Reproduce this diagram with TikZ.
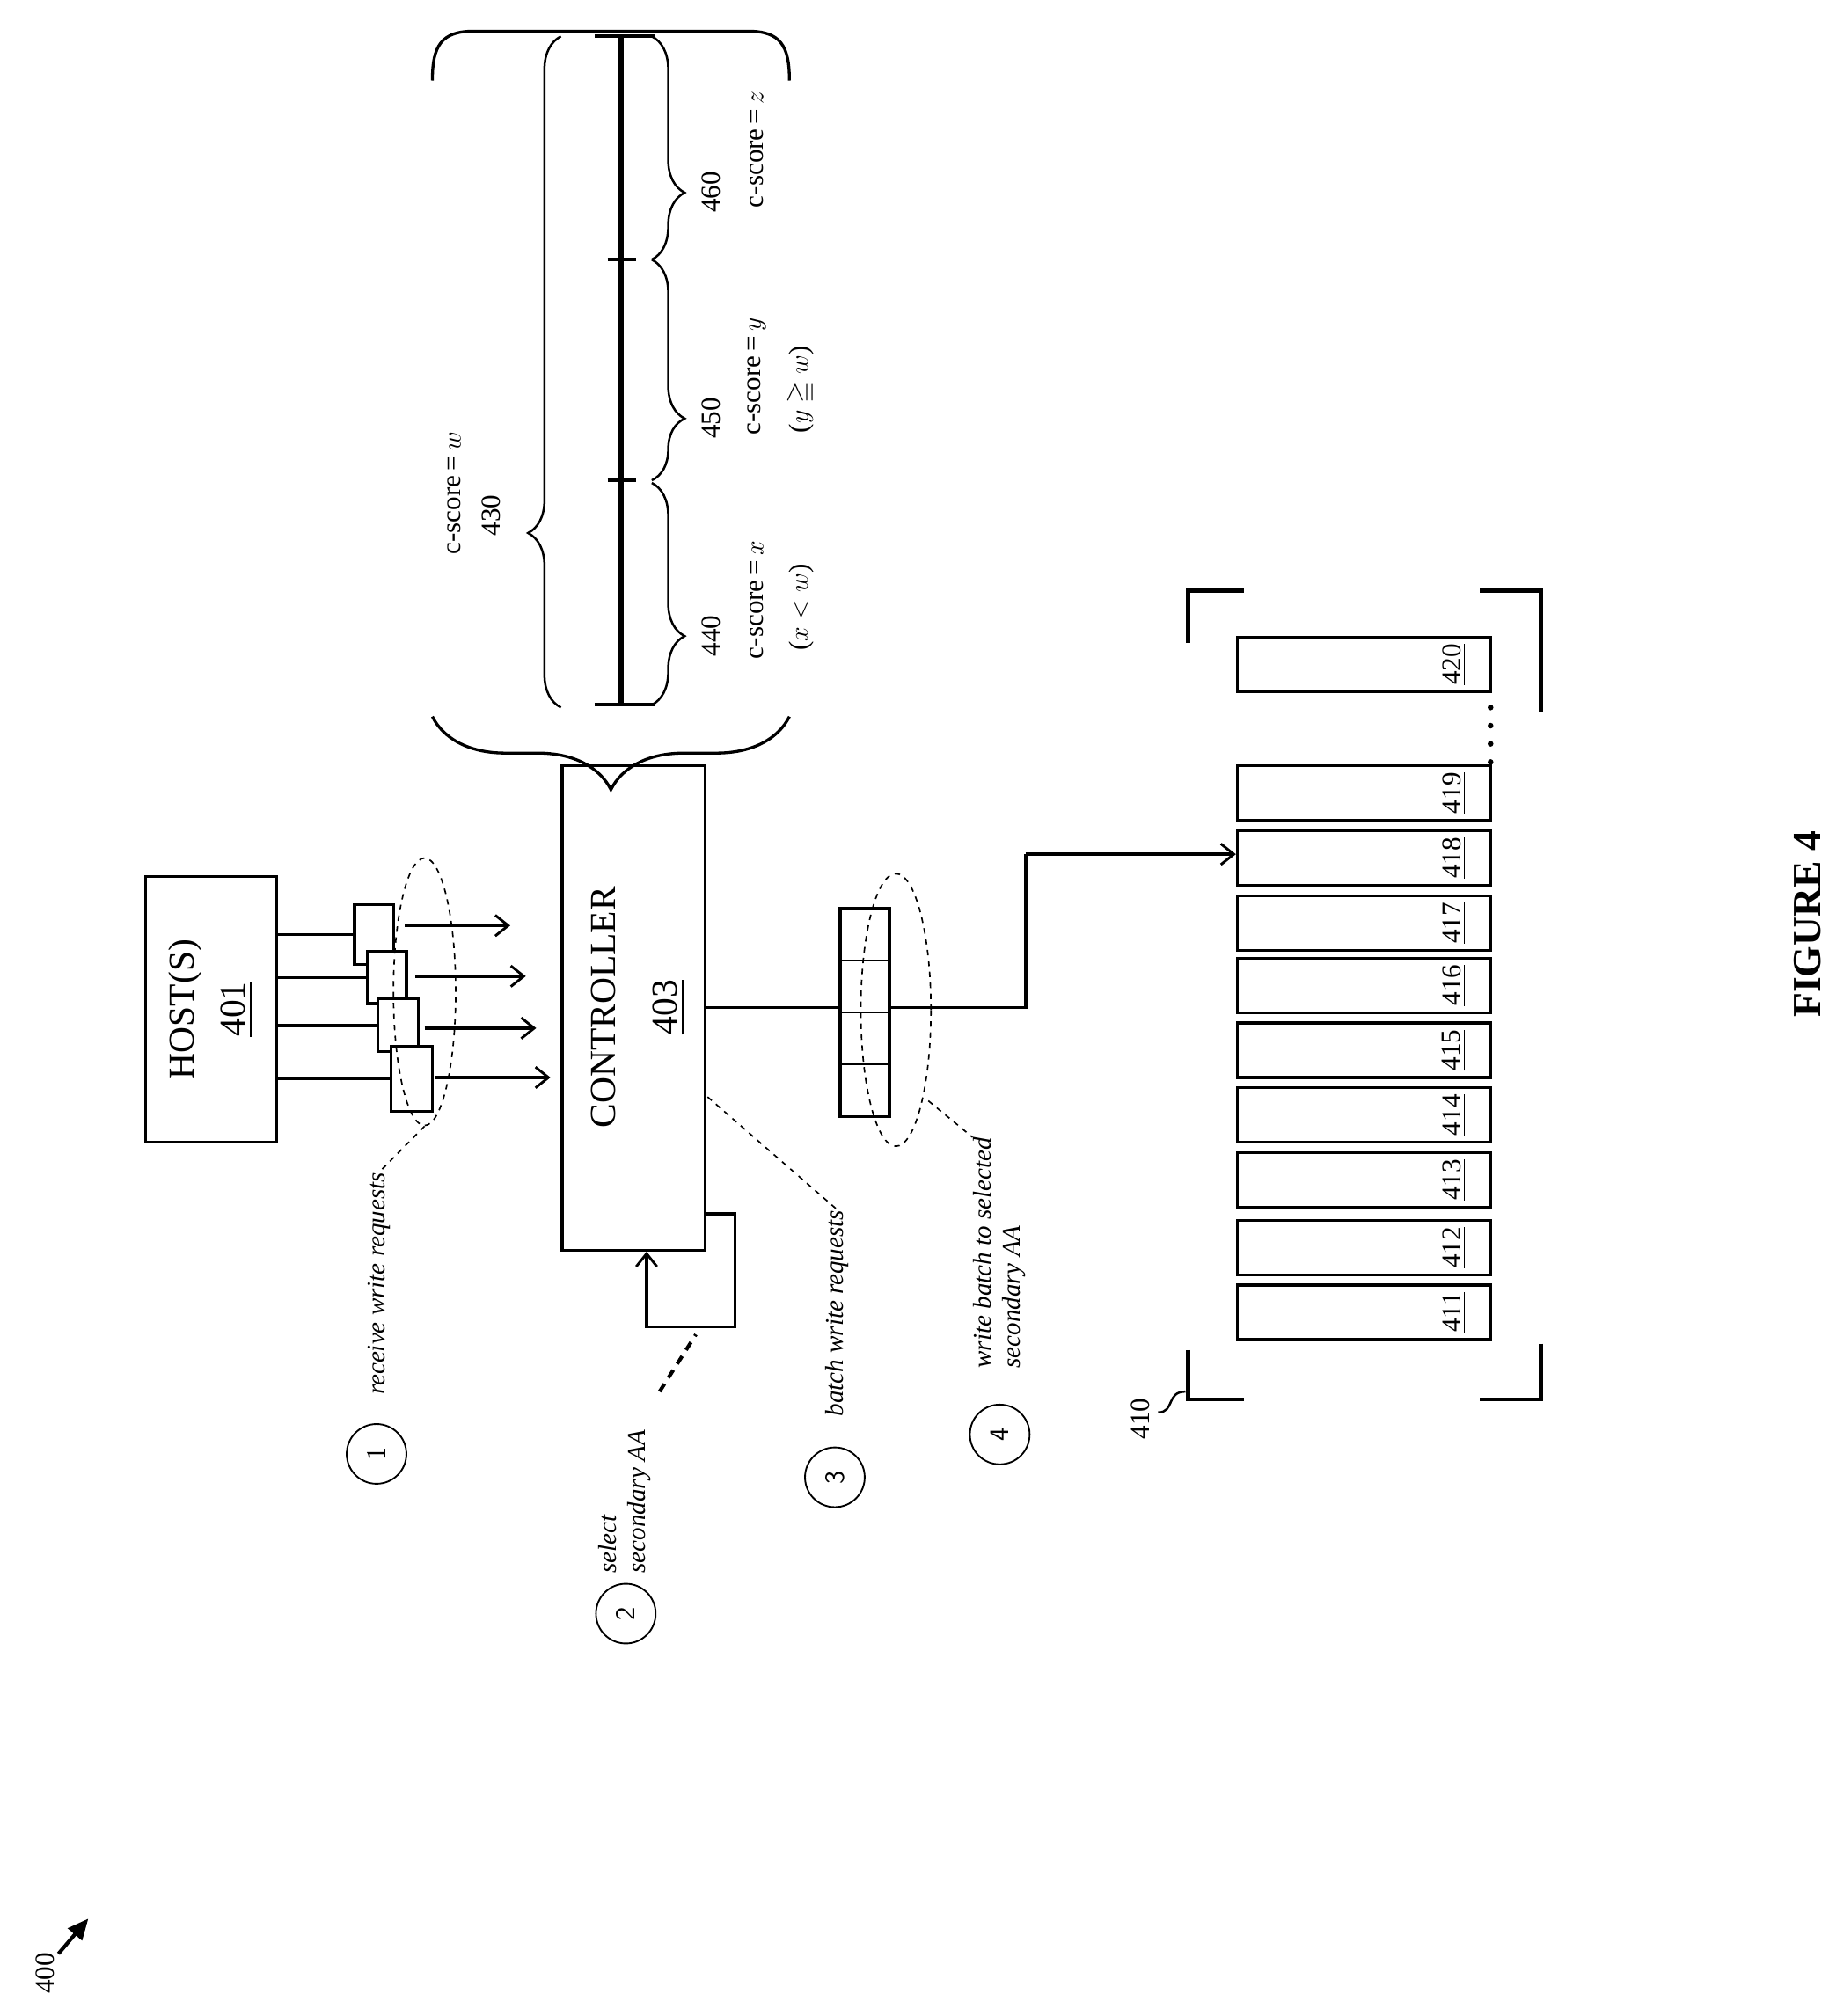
\documentclass[tikz,border=0pt]{standalone}
\usepackage{amssymb}
\usepackage{fontspec}
\setmainfont{Liberation Serif}
\usetikzlibrary{positioning,calc,arrows.meta,shapes.geometric,decorations.pathreplacing}
\newcommand{\px}[1]{#1*0.025cm}

\begin{document}
\begin{tikzpicture}[
  x=0.025cm, y=-0.025cm,
  box/.style={draw, line width=1.6pt, inner sep=0pt, fill=white},
  lbl/.style={rotate=90, inner sep=0pt, font=\fontsize{20}{24}\selectfont},
  small/.style={rotate=90, inner sep=0pt, font=\fontsize{15}{17}\selectfont},
  stepnote/.style={rotate=90, inner sep=0pt, align=left, font=\itshape\fontsize{14}{16}\selectfont},
  num/.style={draw, circle, line width=0.9pt, minimum size=\px{46}, inner sep=0pt,
    rotate=90, font=\sffamily\fontsize{15}{17}\selectfont},
  lead/.style={dashed, line width=0.8pt},
  flow/.style={line width=1.6pt, -{Straight Barb[length=2.5mm,width=4mm,line width=1.4pt]}},
  grp/.style={draw, ellipse, dashed, line width=0.8pt, inner sep=0pt},
  drive/.style={box, minimum width=\px{195}, minimum height=\px{42}},
  bigbrace/.style={line width=1.6pt, decorate, decoration={brace, amplitude=#1}},
  ]
  \useasboundingbox (0,0) rectangle (1408,1553);

  % host and controller
  \node [box, minimum width=\px{101}, minimum height=\px{205}] (host) at (162.5,777.5) {};
  \node [lbl, align=center] at (host.center) {HOST(S)\\[4pt]\underline{401}};
  \node [box, minimum width=\px{110}, minimum height=\px{373}] (ctrl) at (488,776.5) {};
  \node [lbl] at (465,776) {CONTROLLER};
  \node [lbl] at (515,776) {\underline{403}};

  % write requests
  \coordinate (r1-in) at (273,720);
  \coordinate (r2-in) at (283,753);
  \coordinate (r3-in) at (291,790);
  \coordinate (r4-in) at (301,831);
  \foreach \r in {1,...,4}
    \draw [line width=1.6pt] (r\r-in -| host.east) -- (r\r-in);
  \node [box, minimum width=\px{30}, minimum height=\px{46}] (r1) at (288,720) {};
  \node [box, minimum width=\px{30}, minimum height=\px{40}] (r2) at (298,753) {};
  \node [box, minimum width=\px{31}, minimum height=\px{41}] (r3) at (306.5,789.5) {};
  \node [box, minimum width=\px{32}, minimum height=\px{50}] (r4) at (317,831) {};
  \foreach \a/\b/\y in {312/393/713, 320/405/752, 327/413/792, 335/424/830} {
    \coordinate (a-\y) at (\a,\y);
    \coordinate (b-\y) at (\b,\y);
    \draw [flow] (a-\y) -- (b-\y);
  }
  \node [grp, minimum width=\px{48}, minimum height=\px{206}] (reqs) at (327,764) {};

  % step 1
  \node [stepnote, anchor=east] (t1) at (292,903) {receive write requests};
  \draw [lead] (reqs.south) -- (t1.east);
  \node [num] (n1) at (290,1120) {1};

  % step 2: loop back into controller
  \coordinate (l1) at (566,935);
  \coordinate (l2) at (566,1022);
  \coordinate (l3) at (498,1022);
  \draw [flow] (l1 -| ctrl.east) -- (l1) -- (l2) -- (l3) -- (l3 |- ctrl.south);
  \node [stepnote, anchor=west] (t2) at (481,1212) {select\\secondary AA};
  \coordinate (t2-end) at (508,1072);
  \draw [line width=2pt, dash pattern=on 5pt off 4pt] (t2-end) -- (536,1028);
  \node [num] (n2) at (482,1243) {2};

  % step 3
  \coordinate (c3) at (545,845);
  \node [stepnote, anchor=east] (t3) at (645,932) {batch write requests};
  \draw [lead] (c3) -- (t3.east);
  \node [num] (n3) at (643,1138) {3};

  % batch queue
  \node [box, minimum width=\px{38}, minimum height=\px{160}] (queue) at (666,780) {};
  \foreach \y in {740,780,820}
    \draw [line width=1.2pt] (647,\y) -- (685,\y);
  \coordinate (q1) at (790,776);
  \coordinate (q2) at (790,658);
  \draw [line width=1.6pt] (ctrl.east |- q1) -- (queue.west |- q1);
  \node [grp, minimum width=\px{54}, minimum height=\px{210}] (batch) at (690,778) {};

  % step 4
  \node [stepnote, anchor=north east] (t4) at (749,876) {write batch to selected\\secondary AA};
  \draw [lead] (715,848) -- (t4.north east);
  \node [num] (n4) at (770,1105) {4};

  % storage array
  \foreach \n/\y in {411/1011, 412/961, 413/909, 414/859, 415/809, 416/759, 417/711, 418/661, 419/611, 420/512} {
    \node [drive] (d\n) at (1050.5,\y) {};
    \node [small, anchor=center] at (1120,\y) {\underline{\n}};
  }
  \draw [line width=1.6pt] (queue.east |- q1) -- (q1) -- (q2);
  \draw [flow] (q2) -- (q2 -| d418.west);
  \foreach \y in {545,559,573,587}
    \fill (1148,\y) circle (2.2);
  \draw [line width=2.4pt] (958,455) -- (915,455) -- (915,495);
  \draw [line width=2.4pt] (1140,455) -- (1187,455) -- (1187,548);
  \draw [line width=2.4pt] (915,1040) -- (915,1078) -- (958,1078);
  \draw [line width=2.4pt] (1187,1035) -- (1187,1078) -- (1140,1078);
  \node [small] (l410) at (878,1093) {410};
  \draw [line width=1.2pt] (892,1088) .. controls (905,1088) and (898,1072) .. (913,1072);

  % c-score ranges
  \draw [bigbrace=40pt] (608,552) -- (333,552);
  \draw [line width=1.6pt] (333,62) .. controls (333,35) and (340,24) .. (365,24)
    -- (576,24) .. controls (601,24) and (608,35) .. (608,62);
  \draw [line width=1.2pt, decorate, decoration={brace, amplitude=18pt, aspect=0.26}]
    (432,545) -- (432,28);
  \draw [line width=3pt] (478,28) -- (478,543);
  \draw [line width=2pt] (458,28) -- (505,28);
  \draw [line width=2pt] (458,543) -- (505,543);
  \foreach \y in {200,370}
    \draw [line width=2pt] (468,\y) -- (490,\y);
  \foreach \a/\b/\s in {28/200/0.7, 200/370/0.72, 372/543/0.69}
    \draw [line width=1.2pt, decorate, decoration={brace, amplitude=18pt, aspect=\s}]
      (502,\a) -- (502,\b);
  \node [small] (s430) at (350,380) {c-score\,=\,$w$};
  \node [small] at (378,397) {430};
  \node [small] at (548,490) {440};
  \node [small] at (583,462) {c-score\,=\,$x$};
  \node [small] at (617,468) {($x<w$)};
  \node [small] at (548,322) {450};
  \node [small] at (583,290) {c-score\,=\,$y$};
  \node [small] at (617,300) {($y\geqq w$)};
  \node [small] at (548,148) {460};
  \node [small] at (583,115) {c-score\,=\,$z$};

  % figure labels
  \node [small] (fig) at (35,1520) {400};
  \coordinate (fig-tip) at (68,1478);
  \draw [line width=2pt, -{Triangle[length=4mm,width=3.5mm]}] (45,1505) -- (fig-tip);
  \node [lbl, font=\bfseries\fontsize{22}{26}\selectfont] at (1392,712) {FIGURE 4};
\end{tikzpicture}
\end{document}
